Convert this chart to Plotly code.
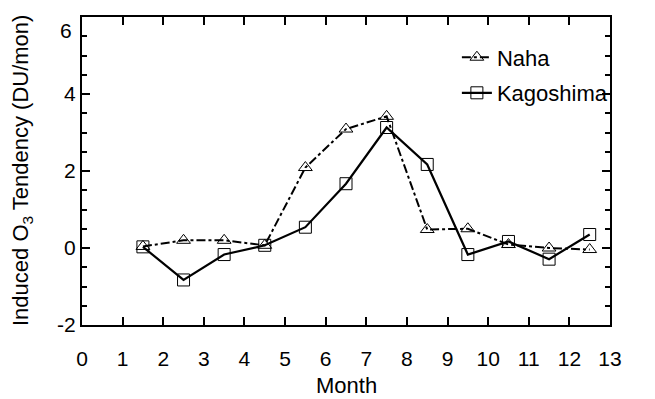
import plotly.graph_objects as go

months = [1.5, 2.5, 3.5, 4.5, 5.5, 6.5, 7.5, 8.5, 9.5, 10.5, 11.5, 12.5]
naha = [0.04, 0.2, 0.2, 0.07, 2.09, 3.09, 3.42, 0.48, 0.5, 0.09, 0.0, -0.04]
kagoshima = [0.03, -0.83, -0.17, 0.07, 0.54, 1.67, 3.13, 2.17, -0.17, 0.17, -0.29, 0.35]
x_ticks = list(range(0, 14))
y_ticks = [-2, 0, 2, 4, 6]

font = "Liberation Sans, Arial, Helvetica, sans-serif"
fs_tick = 21
fs = 22

fig = go.Figure()
fig.add_trace(go.Scatter(
    x=months, y=naha, name="Naha", mode="lines+markers", legendgroup="a",
    line=dict(color="black", width=2, dash="dashdot"),
    marker=dict(symbol="triangle-up-open", size=12, color="black", line=dict(width=1)),
))
fig.add_trace(go.Scatter(
    x=months, y=kagoshima, name="Kagoshima", mode="lines+markers", legendgroup="b",
    line=dict(color="black", width=2.2),
    marker=dict(symbol="square-open", size=12, color="black", line=dict(width=1)),
))

axis_common = dict(
    showline=True, linecolor="black", linewidth=2, mirror="ticks",
    ticks="inside", tickcolor="black", tickwidth=1.5, ticklen=8,
    showgrid=False, zeroline=False, automargin=False,
    tickfont=dict(family=font, size=fs_tick, color="black"),
)

# top label ("6") is drawn slightly lowered, as in the reference, via an annotation
y_text = [str(v) for v in y_ticks]
fig.update_layout(
    xaxis=dict(range=[0, 13], tickvals=x_ticks, ticktext=[str(v) for v in x_ticks],
               ticklabelstandoff=14, **axis_common),
    yaxis=dict(range=[-2, 6], tickvals=y_ticks, ticktext=y_text[:-1] + [""],
               minor=dict(dtick=0.5, ticks="inside", ticklen=5, tickcolor="black", tickwidth=1.5),
               **axis_common),
    yaxis2=dict(range=[-2, 6], overlaying="y", side="right", tickvals=y_ticks,
                showticklabels=False, showline=False, showgrid=False, zeroline=False,
                ticks="inside", tickcolor="black", tickwidth=1.5, ticklen=8,
                minor=dict(dtick=0.5, ticks="inside", ticklen=5, tickcolor="black", tickwidth=1.5),
                automargin=False),
)
fig.add_annotation(text=y_text[-1], xref="paper", yref="y", x=0, y=y_ticks[-1],
                   xshift=-8, yshift=-13, xanchor="right", yanchor="middle", showarrow=False,
                   font=dict(family=font, size=fs_tick, color="black"))
# invisible helper trace to activate right-side axis ticks
fig.add_trace(go.Scatter(x=[months[0]], y=[naha[0]], yaxis="y2", mode="markers",
                         marker=dict(opacity=0), showlegend=False, hoverinfo="skip"))

fig.add_annotation(text="Month", xref="paper", yref="paper", x=0.5, y=0,
                   yshift=-60, yanchor="middle", showarrow=False,
                   font=dict(family=font, size=fs, color="black"))
fig.add_annotation(text="Induced O<sub>3</sub> Tendency (DU/mon)", xref="paper", yref="paper",
                   x=0, y=0.5, xshift=-60, textangle=-90, xanchor="center", yanchor="middle",
                   showarrow=False, font=dict(family=font, size=fs, color="black"))

# page body has an 8px default margin, so the figure is sized/offset to compensate
fig.update_layout(
    width=647, height=391,
    margin=dict(l=74, r=45, t=9, b=74),
    paper_bgcolor="white", plot_bgcolor="white",
    font=dict(family=font, size=fs, color="black"),
    legend=dict(x=0.71, y=0.937, xanchor="left", yanchor="top", traceorder="grouped",
                bgcolor="rgba(0,0,0,0)", font=dict(family=font, size=fs, color="black"),
                itemwidth=30, tracegroupgap=4),
    showlegend=True,
)

fig.write_html("out.html")
